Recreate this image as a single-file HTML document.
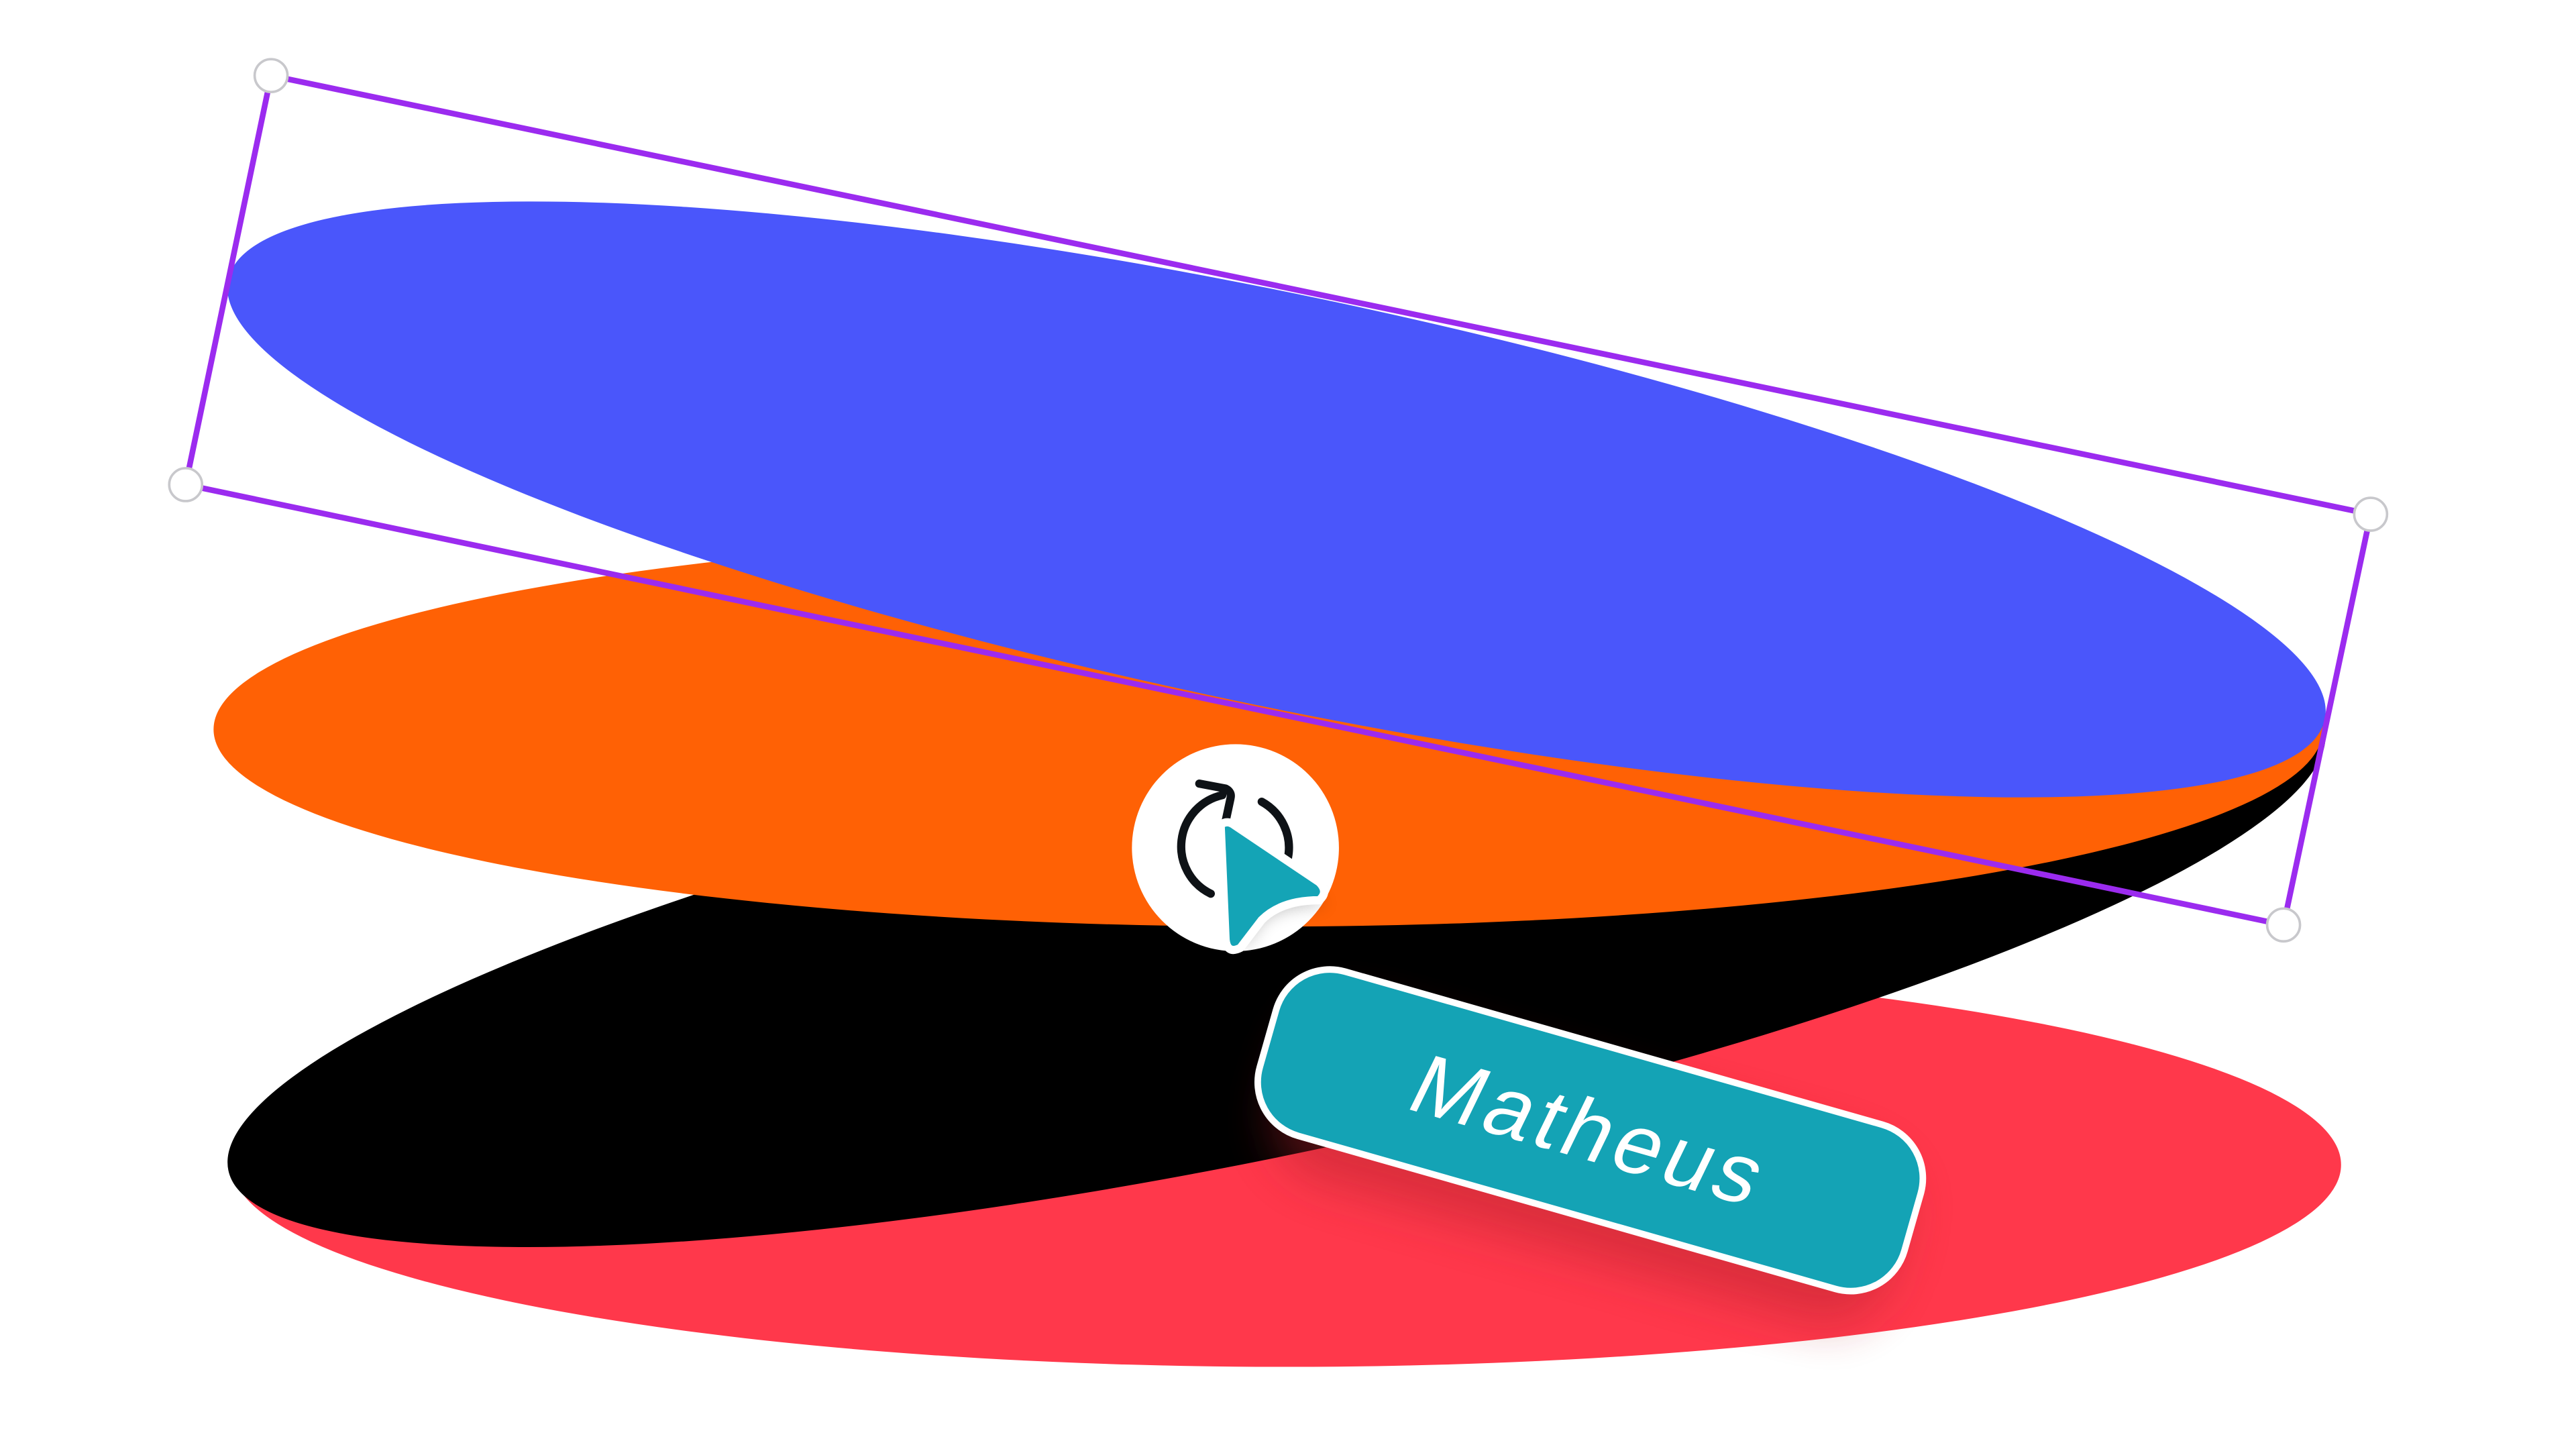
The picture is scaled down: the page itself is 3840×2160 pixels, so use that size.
<!DOCTYPE html>
<html><head><style>html,body{margin:0;padding:0;background:#fff}svg{display:block}</style></head>
<body>
<svg width="3840" height="2160" viewBox="0 0 1568 882" xmlns="http://www.w3.org/2000/svg">
<defs>
<filter id="sh" x="-30%" y="-30%" width="160%" height="180%"><feGaussianBlur stdDeviation="14"/></filter>
<filter id="sh2" x="-30%" y="-30%" width="160%" height="160%"><feGaussianBlur stdDeviation="5"/></filter>
</defs>
<ellipse cx="783" cy="709" rx="642" ry="123" fill="#ff384b"/>
<ellipse cx="777" cy="578" rx="652" ry="124" transform="rotate(-11.9 777 578)" fill="#000"/>
<ellipse cx="772" cy="444" rx="642" ry="120" fill="#ff6105"/>
<ellipse cx="777" cy="304" rx="652" ry="125" transform="rotate(11.85 777 304)" fill="#4a56fb"/>
<polygon points="165,46 1443,313 1390,563 113,295" fill="none" stroke="#9b2bef" stroke-width="3.5"/>
<g fill="#fff" stroke="#c8c8cc" stroke-width="1.5">
<circle cx="165" cy="46" r="10"/><circle cx="1443" cy="313" r="10"/>
<circle cx="1390" cy="563" r="10"/><circle cx="113" cy="295" r="10"/>
</g>
<circle cx="752" cy="516" r="63" fill="#fff"/>
<g fill="none" stroke="#0e1216" stroke-width="5" stroke-linecap="round" stroke-linejoin="round">
<path d="M744 484 A32 32 0 0 0 737 544"/>
<path d="M768 488 A32 32 0 0 1 784 522"/>
<path d="M730 477 L746 480 Q750 482 749 486 L746 500"/>
</g>
<path d="M747 508 L803 545 Q775 544 762 556 L751 574 Z" fill="#000" opacity="0.25" filter="url(#sh2)" transform="translate(5,6)"/>
<path d="M743 502 Q747 499 751 502 L803 537 Q809 543 803 548 Q780 548 768 560 L755 577 Q747 581 746 572 Z" fill="#14a4b6" stroke="#fff" stroke-width="5" stroke-linejoin="round"/>
<g transform="translate(968,688) rotate(15.9)">
<rect x="-190" y="-35" width="390" height="110" rx="40" fill="#b0202a" opacity="0.45" filter="url(#sh)"/>
<rect x="-204" y="-52" width="408" height="104" rx="34" fill="#14a3b5" stroke="#fff" stroke-width="4"/>
<text x="0" y="18" text-anchor="middle" font-family="Liberation Sans, sans-serif" font-weight="500" font-size="52" fill="#fff" letter-spacing="3" transform="skewX(-10)">Matheus</text>
</g>
</svg>
</body></html>
